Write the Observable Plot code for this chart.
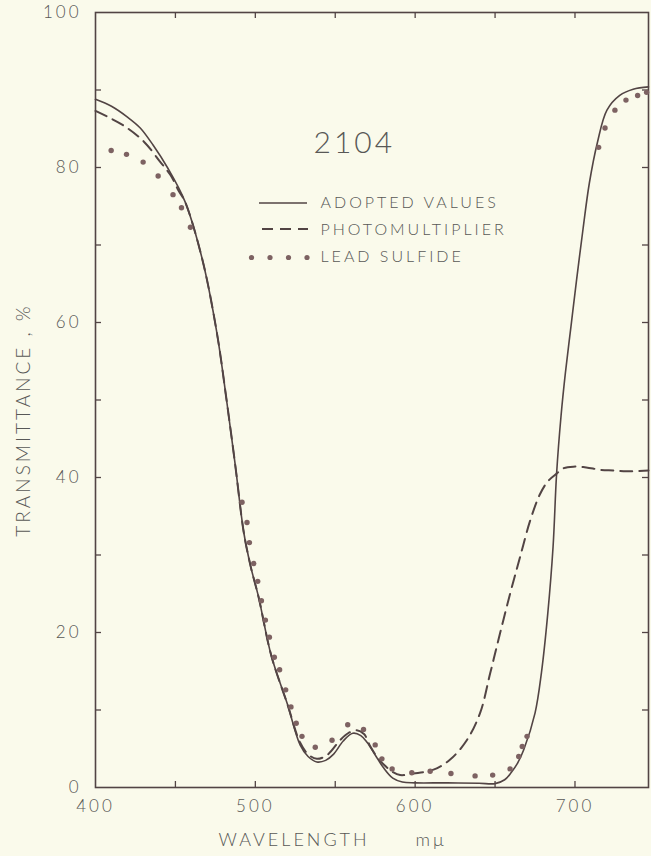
<!DOCTYPE html>
<html><head><meta charset="utf-8">
<script src="https://cdn.jsdelivr.net/npm/d3@7"></script>
<script src="https://cdn.jsdelivr.net/npm/@observablehq/plot@0.6"></script>
<style>
html,body{margin:0;padding:0;background:#fafaeb;}
#chart{position:relative;width:651px;height:856px;}
</style></head><body><div id="chart"></div>
<script>
// ---- data ----
const adoptedWl = [400,410,420,428,436,445,456,467,476,482,487.5,492.7,497,502,510,520,528,533,538.5,544,549,555,561,566,570,575,580,586,592,600,620,640,650,656,660,664,668,675,679,683,686.3,688.5,691.3,694,697.5,701,705,709,714,720,728,736.4,746];
const adoptedT  = [88.8,87.9,86.5,85.1,82.9,80.0,75.6,68.0,58.6,50.0,41.5,33.0,28.6,24.6,17.0,10.8,5.5,4.0,3.3,3.5,4.3,6.0,7.0,6.7,5.8,4.2,2.6,1.2,0.7,0.6,0.6,0.55,0.5,1.0,1.9,3.1,4.9,9.6,14.8,22.5,31.1,40.5,48.0,53.5,59.5,65.5,72.0,78.0,83.2,87.4,89.3,90.1,90.4];

const photoWl = [400,408,417.7,430,440.6,447,452,456,467,476,482,487.5,492.7,497,502,510,520,528,533,538.5,545,553,558,563.5,568,572,577,581.7,586,590.6,599,611.5,621.9,632.3,640.6,646.9,653,659.4,665.6,671.9,678,683,688.5,693,699,707,715.6,724,732.3,746];
const photoT  = [87.3,86.5,85.4,83.4,80.7,79.0,77.0,75.6,68.0,58.6,50.0,41.5,33.0,28.6,24.6,17.0,10.8,5.8,4.3,3.7,4.2,6.1,7.0,7.4,6.9,5.3,3.7,2.7,2.0,1.6,1.8,2.3,3.6,6.1,9.6,14.7,19.8,25.0,29.7,34.4,37.8,39.5,40.5,41.2,41.4,41.3,41.0,40.9,40.8,40.9];

const leadWl = [409.8,419.4,429.8,439.2,448.5,453.8,459.4,491.7,494.8,496.3,499,501.5,503.8,506.3,508.8,511.9,515.2,519,522.3,525.6,529.2,537.5,548,557.8,567.7,575,579.2,585.6,597.9,609.4,622.4,637.5,648.5,659.4,664.8,667,670,714.8,718.8,725,731.9,739.2,744.8];
const leadT  = [82.2,81.7,80.7,78.9,76.5,74.8,72.3,36.8,34.2,31.6,28.9,26.6,24.1,21.6,19.4,16.8,15.2,12.6,10.4,8.3,6.6,5.2,6.1,8.1,7.5,5.5,3.7,2.4,1.9,2.1,1.8,1.5,1.6,2.4,4.0,5.3,6.6,82.6,85.1,87.4,88.7,89.3,89.7];

const xLabelTicks = [400,500,600,700];
const xMinorTicks = [450,500,550,600,650,700];
const yLabelTicks = [0,20,40,60,80,100];
const yMinorTicks = [10,20,30,40,50,60,70,80,90];
const seriesNames = ["ADOPTED VALUES","PHOTOMULTIPLIER","LEAD SULFIDE"];
const chartLabel = "2104";
const xTitle = "WAVELENGTH";
const xUnit = "m\u03bc";
const yTitle = "TRANSMITTANCE , %";

// ---- tables ----
const adopted = adoptedWl.map((w,i)=>({wl:w, t:adoptedT[i]}));
const photo = photoWl.map((w,i)=>({wl:w, t:photoT[i]}));
const lead = leadWl.map((w,i)=>({wl:w, t:leadT[i]}));

const W=651, H=856, mt=12, mb=69, ml=95, mr=3;
const innerH = H-mt-mb, innerW = W-ml-mr;
const ink = "#524444";
const dotInk = "#7d6262";
const textInk = "#585856";
const font = "Lato, 'Open Sans', sans-serif";

const chart = Plot.plot({
  width: W, height: H,
  marginTop: mt, marginBottom: mb, marginLeft: ml, marginRight: mr,
  style: {background: "#fafaeb", color: textInk, fontFamily: font, fontSize: "17px", letterSpacing: "3px", fontWeight: 300},
  x: {domain: [400, 746], ticks: xLabelTicks, tickSize: 0, tickPadding: 12, label: null},
  y: {domain: [0, 100], ticks: yLabelTicks, tickSize: 0, tickPadding: 14, label: null},
  marks: [
    Plot.frame({stroke: ink, strokeWidth: 1.6}),
    Plot.tickX(xMinorTicks, {x: d=>d, insetTop: innerH-6, stroke: ink, strokeWidth: 1.3}),
    Plot.tickX(xMinorTicks, {x: d=>d, insetBottom: innerH-6, stroke: ink, strokeWidth: 1.3}),
    Plot.tickY(yMinorTicks, {y: d=>d, insetRight: innerW-6, stroke: ink, strokeWidth: 1.3}),
    Plot.tickY(yMinorTicks, {y: d=>d, insetLeft: innerW-6, stroke: ink, strokeWidth: 1.3}),
    Plot.line(adopted, {x: "wl", y: "t", curve: "catmull-rom", stroke: ink, strokeWidth: 1.6}),
    Plot.line(photo, {x: "wl", y: "t", curve: "catmull-rom", stroke: ink, strokeWidth: 2, strokeDasharray: "12,7"}),
    Plot.dot(lead, {x: "wl", y: "t", r: 2.7, fill: dotInk, stroke: "none"}),
    Plot.text([chartLabel], {frameAnchor: "top-left", dx: 218, dy: 140, textAnchor: "start", lineAnchor: "bottom", fontSize: 30, fill: textInk, letterSpacing: 1}),
    Plot.text([seriesNames.join("\n")], {frameAnchor: "top-left", dx: 225, dy: 176, textAnchor: "start", lineAnchor: "top", fontSize: 16, lineHeight: 1.69, fill: textInk, letterSpacing: 3.4}),
    Plot.text([yTitle], {frameAnchor: "left", rotate: -90, dx: -72, dy: 20, textAnchor: "middle", fontSize: 19, fill: textInk, letterSpacing: 4.6}),
    Plot.text([xTitle], {frameAnchor: "bottom-left", dx: 123, dy: 58, textAnchor: "start", lineAnchor: "bottom", fontSize: 18, fill: textInk, letterSpacing: 3.4}),
    Plot.text([xUnit], {frameAnchor: "bottom-left", dx: 320, dy: 58, textAnchor: "start", lineAnchor: "bottom", fontSize: 18, fill: textInk})
  ]
});
document.getElementById("chart").appendChild(chart);

// ---- legend glyphs ----
const svg = d3.select(chart);
const lg = svg.append("g").attr("class", "legend-glyphs");
lg.append("line").attr("x1", 259).attr("x2", 307).attr("y1", 203).attr("y2", 203)
  .attr("stroke", ink).attr("stroke-width", 1.6);
lg.append("line").attr("x1", 262).attr("x2", 308).attr("y1", 229).attr("y2", 229)
  .attr("stroke", ink).attr("stroke-width", 2).attr("stroke-dasharray", "11,7");
[251.5, 270, 288.5, 307].forEach(cx => {
  lg.append("circle").attr("cx", cx).attr("cy", 257.5).attr("r", 2.6).attr("fill", dotInk);
});
</script>
</body></html>
